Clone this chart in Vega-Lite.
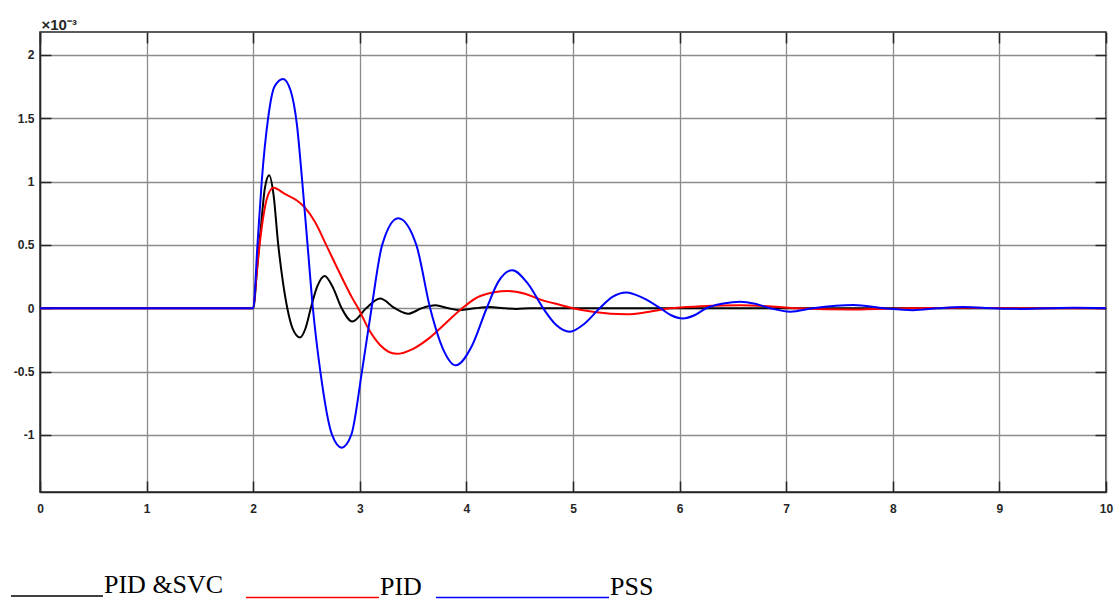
{
  "$schema": "https://vega.github.io/schema/vega-lite/v6.json",
  "width": 1066,
  "height": 460,
  "autosize": {"type": "none"},
  "padding": {"left": 40, "top": 32, "right": 10, "bottom": 107},
  "background": "white",
  "config": {
    "view": {"stroke": "#262626", "strokeWidth": 1.5},
    "axis": {
      "labelFont": "Liberation Sans",
      "labelFontWeight": "bold",
      "labelFontSize": 12,
      "labelColor": "#262626",
      "gridColor": "#8c8c8c",
      "gridWidth": 1.3,
      "gridOpacity": 1,
      "domainColor": "#262626",
      "domainWidth": 1.5,
      "tickColor": "#262626",
      "tickWidth": 1.5
    },
    "legend": {
      "orient": "none",
      "direction": "horizontal",
      "title": null,
      "symbolStrokeWidth": 1.5,
      "labelFont": "Liberation Serif",
      "labelFontSize": 26,
      "labelColor": "#000000",
      "labelOffset": 0,
      "labelBaseline": "alphabetic",
      "labelLimit": 400
    }
  },
  "data": {
    "values": [
      {"t": 0, "v": 0, "s": "PID &SVC"},
      {"t": 2, "v": 0, "s": "PID &SVC"},
      {"t": 2.04, "v": 0.35, "s": "PID &SVC"},
      {"t": 2.07, "v": 0.62, "s": "PID &SVC"},
      {"t": 2.11, "v": 0.95, "s": "PID &SVC"},
      {"t": 2.15, "v": 1.05, "s": "PID &SVC"},
      {"t": 2.19, "v": 0.9, "s": "PID &SVC"},
      {"t": 2.235, "v": 0.5, "s": "PID &SVC"},
      {"t": 2.28, "v": 0.2, "s": "PID &SVC"},
      {"t": 2.32, "v": 0, "s": "PID &SVC"},
      {"t": 2.37, "v": -0.16, "s": "PID &SVC"},
      {"t": 2.44, "v": -0.23, "s": "PID &SVC"},
      {"t": 2.49, "v": -0.16, "s": "PID &SVC"},
      {"t": 2.54, "v": 0, "s": "PID &SVC"},
      {"t": 2.6, "v": 0.17, "s": "PID &SVC"},
      {"t": 2.67, "v": 0.255, "s": "PID &SVC"},
      {"t": 2.75, "v": 0.16, "s": "PID &SVC"},
      {"t": 2.83, "v": 0, "s": "PID &SVC"},
      {"t": 2.93, "v": -0.105, "s": "PID &SVC"},
      {"t": 3.06, "v": 0, "s": "PID &SVC"},
      {"t": 3.19, "v": 0.076, "s": "PID &SVC"},
      {"t": 3.33, "v": 0, "s": "PID &SVC"},
      {"t": 3.455, "v": -0.043, "s": "PID &SVC"},
      {"t": 3.58, "v": 0, "s": "PID &SVC"},
      {"t": 3.71, "v": 0.023, "s": "PID &SVC"},
      {"t": 3.83, "v": 0, "s": "PID &SVC"},
      {"t": 3.94, "v": -0.015, "s": "PID &SVC"},
      {"t": 4.08, "v": 0, "s": "PID &SVC"},
      {"t": 4.22, "v": 0.01, "s": "PID &SVC"},
      {"t": 4.35, "v": 0, "s": "PID &SVC"},
      {"t": 4.47, "v": -0.005, "s": "PID &SVC"},
      {"t": 4.6, "v": 0, "s": "PID &SVC"},
      {"t": 10, "v": 0, "s": "PID &SVC"},

      {"t": 0, "v": 0, "s": "PID"},
      {"t": 2, "v": 0, "s": "PID"},
      {"t": 2.03, "v": 0.25, "s": "PID"},
      {"t": 2.06, "v": 0.5, "s": "PID"},
      {"t": 2.1, "v": 0.75, "s": "PID"},
      {"t": 2.13, "v": 0.87, "s": "PID"},
      {"t": 2.19, "v": 0.95, "s": "PID"},
      {"t": 2.3, "v": 0.9, "s": "PID"},
      {"t": 2.41, "v": 0.85, "s": "PID"},
      {"t": 2.49, "v": 0.79, "s": "PID"},
      {"t": 2.58, "v": 0.68, "s": "PID"},
      {"t": 2.69, "v": 0.49, "s": "PID"},
      {"t": 2.81, "v": 0.28, "s": "PID"},
      {"t": 2.93, "v": 0.08, "s": "PID"},
      {"t": 2.985, "v": 0, "s": "PID"},
      {"t": 3.08, "v": -0.16, "s": "PID"},
      {"t": 3.19, "v": -0.29, "s": "PID"},
      {"t": 3.345, "v": -0.36, "s": "PID"},
      {"t": 3.5, "v": -0.32, "s": "PID"},
      {"t": 3.66, "v": -0.23, "s": "PID"},
      {"t": 3.81, "v": -0.115, "s": "PID"},
      {"t": 3.96, "v": 0, "s": "PID"},
      {"t": 4.13, "v": 0.097, "s": "PID"},
      {"t": 4.39, "v": 0.136, "s": "PID"},
      {"t": 4.55, "v": 0.115, "s": "PID"},
      {"t": 4.69, "v": 0.07, "s": "PID"},
      {"t": 4.88, "v": 0.026, "s": "PID"},
      {"t": 5.0, "v": 0, "s": "PID"},
      {"t": 5.2, "v": -0.03, "s": "PID"},
      {"t": 5.5, "v": -0.048, "s": "PID"},
      {"t": 5.7, "v": -0.03, "s": "PID"},
      {"t": 5.91, "v": 0, "s": "PID"},
      {"t": 6.2, "v": 0.015, "s": "PID"},
      {"t": 6.57, "v": 0.023, "s": "PID"},
      {"t": 6.9, "v": 0.012, "s": "PID"},
      {"t": 7.1, "v": 0, "s": "PID"},
      {"t": 7.63, "v": -0.01, "s": "PID"},
      {"t": 8.15, "v": 0, "s": "PID"},
      {"t": 8.7, "v": 0.004, "s": "PID"},
      {"t": 9.2, "v": 0, "s": "PID"},
      {"t": 10, "v": 0, "s": "PID"},

      {"t": 0, "v": 0, "s": "PSS"},
      {"t": 2, "v": 0, "s": "PSS"},
      {"t": 2.04, "v": 0.5, "s": "PSS"},
      {"t": 2.08, "v": 1.0, "s": "PSS"},
      {"t": 2.14, "v": 1.5, "s": "PSS"},
      {"t": 2.2, "v": 1.75, "s": "PSS"},
      {"t": 2.28, "v": 1.81, "s": "PSS"},
      {"t": 2.35, "v": 1.72, "s": "PSS"},
      {"t": 2.41, "v": 1.45, "s": "PSS"},
      {"t": 2.46, "v": 1.0, "s": "PSS"},
      {"t": 2.51, "v": 0.5, "s": "PSS"},
      {"t": 2.56, "v": 0, "s": "PSS"},
      {"t": 2.63, "v": -0.5, "s": "PSS"},
      {"t": 2.74, "v": -1.0, "s": "PSS"},
      {"t": 2.83, "v": -1.1, "s": "PSS"},
      {"t": 2.92, "v": -1.0, "s": "PSS"},
      {"t": 3.02, "v": -0.5, "s": "PSS"},
      {"t": 3.11, "v": 0, "s": "PSS"},
      {"t": 3.21, "v": 0.5, "s": "PSS"},
      {"t": 3.36, "v": 0.71, "s": "PSS"},
      {"t": 3.53, "v": 0.5, "s": "PSS"},
      {"t": 3.66, "v": 0, "s": "PSS"},
      {"t": 3.78, "v": -0.32, "s": "PSS"},
      {"t": 3.9, "v": -0.45, "s": "PSS"},
      {"t": 4.05, "v": -0.3, "s": "PSS"},
      {"t": 4.19, "v": 0, "s": "PSS"},
      {"t": 4.3, "v": 0.21, "s": "PSS"},
      {"t": 4.43, "v": 0.3, "s": "PSS"},
      {"t": 4.58, "v": 0.19, "s": "PSS"},
      {"t": 4.72, "v": 0, "s": "PSS"},
      {"t": 4.84, "v": -0.13, "s": "PSS"},
      {"t": 4.97, "v": -0.185, "s": "PSS"},
      {"t": 5.11, "v": -0.12, "s": "PSS"},
      {"t": 5.25, "v": 0, "s": "PSS"},
      {"t": 5.37, "v": 0.09, "s": "PSS"},
      {"t": 5.5, "v": 0.125, "s": "PSS"},
      {"t": 5.66, "v": 0.08, "s": "PSS"},
      {"t": 5.82, "v": 0, "s": "PSS"},
      {"t": 5.92, "v": -0.055, "s": "PSS"},
      {"t": 6.03, "v": -0.08, "s": "PSS"},
      {"t": 6.14, "v": -0.055, "s": "PSS"},
      {"t": 6.25, "v": 0, "s": "PSS"},
      {"t": 6.41, "v": 0.037, "s": "PSS"},
      {"t": 6.57, "v": 0.052, "s": "PSS"},
      {"t": 6.71, "v": 0.035, "s": "PSS"},
      {"t": 6.85, "v": 0, "s": "PSS"},
      {"t": 7.04, "v": -0.027, "s": "PSS"},
      {"t": 7.25, "v": 0, "s": "PSS"},
      {"t": 7.63, "v": 0.026, "s": "PSS"},
      {"t": 7.92, "v": 0, "s": "PSS"},
      {"t": 8.19, "v": -0.015, "s": "PSS"},
      {"t": 8.42, "v": 0, "s": "PSS"},
      {"t": 8.66, "v": 0.01, "s": "PSS"},
      {"t": 8.95, "v": 0, "s": "PSS"},
      {"t": 9.2, "v": -0.005, "s": "PSS"},
      {"t": 9.45, "v": 0, "s": "PSS"},
      {"t": 9.7, "v": 0.003, "s": "PSS"},
      {"t": 10, "v": 0, "s": "PSS"}
    ]
  },
  "layer": [
    {
      "transform": [{"filter": "datum.s === 'PID &SVC'"}],
      "mark": {"type": "line", "interpolate": "monotone", "strokeWidth": 2},
      "encoding": {
        "x": {
          "field": "t", "type": "quantitative",
          "scale": {"domain": [0, 10], "nice": false},
          "axis": {"orient": "bottom", "values": [0,1,2,3,4,5,6,7,8,9,10], "title": null, "grid": true, "tickSize": -11, "labelPadding": 22, "labelFlush": false, "labelOverlap": false}
        },
        "y": {
          "field": "v", "type": "quantitative",
          "scale": {"domain": [-1.45, 2.18], "nice": false, "zero": false},
          "axis": {"orient": "left", "values": [-1, -0.5, 0, 0.5, 1, 1.5, 2], "grid": true, "tickSize": -11, "labelPadding": 17, "labelFlush": false, "labelOverlap": false,
            "labelExpr": "datum.value == 0 ? '0' : (datum.value < 0 ? '-' + format(-datum.value, '') : format(datum.value, ''))",
            "title": "×10⁻³", "titleAngle": 0, "titleAlign": "left", "titleBaseline": "alphabetic", "titleX": 1, "titleY": -3,
            "titleFont": "Liberation Sans", "titleFontSize": 15, "titleFontWeight": "bold", "titleColor": "#262626"}
        },
        "color": {
          "field": "s", "type": "nominal",
          "scale": {"domain": ["PID &SVC"], "range": ["#000000"]},
          "legend": {"legendX": -30, "legendY": 514, "symbolSize": 8464, "symbolType": "M-1,0.065H1"}
        }
      }
    },
    {
      "transform": [{"filter": "datum.s === 'PID'"}],
      "mark": {"type": "line", "interpolate": "monotone", "strokeWidth": 2},
      "encoding": {
        "x": {"field": "t", "type": "quantitative", "axis": null},
        "y": {"field": "v", "type": "quantitative", "axis": null},
        "color": {
          "field": "s", "type": "nominal",
          "scale": {"domain": ["PID"], "range": ["#ff0000"]},
          "legend": {"legendX": 205, "legendY": 495, "symbolSize": 17689, "symbolType": "M-1,0.045H1"}
        }
      }
    },
    {
      "transform": [{"filter": "datum.s === 'PSS'"}],
      "mark": {"type": "line", "interpolate": "monotone", "strokeWidth": 2},
      "encoding": {
        "x": {"field": "t", "type": "quantitative", "axis": null},
        "y": {"field": "v", "type": "quantitative", "axis": null},
        "color": {
          "field": "s", "type": "nominal",
          "scale": {"domain": ["PSS"], "range": ["#0000ff"]},
          "legend": {"legendX": 395, "legendY": 475, "symbolSize": 29929, "symbolType": "M-1,0.035H1",
            "encode": {"symbols": {"update": {"stroke": {"value": "#0070c0"}}}}}
        }
      }
    },
    {
      "mark": {"type": "point", "opacity": 0},
      "encoding": {
        "x": {"field": "t", "type": "quantitative", "axis": {"orient": "top", "values": [0,1,2,3,4,5,6,7,8,9,10], "title": null, "labels": false, "grid": false, "domain": false, "tickSize": -11}},
        "y": {"field": "v", "type": "quantitative", "axis": {"orient": "right", "values": [-1, -0.5, 0, 0.5, 1, 1.5, 2], "title": null, "labels": false, "grid": false, "domain": false, "tickSize": -11}}
      }
    }
  ],
  "resolve": {"scale": {"color": "independent"}, "axis": {"x": "independent", "y": "independent"}}
}
